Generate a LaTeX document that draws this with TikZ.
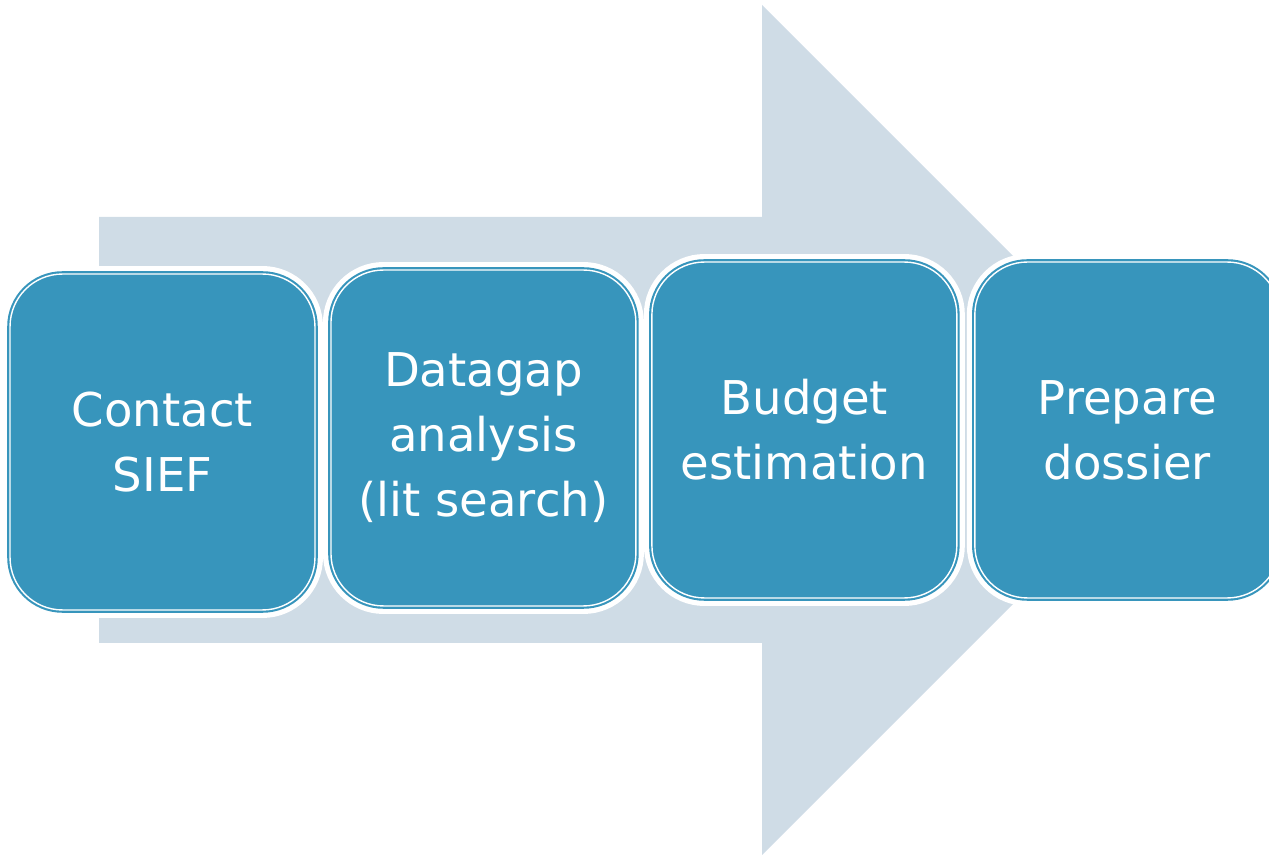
\documentclass[tikz,border=0pt]{standalone}
\usepackage{fontspec}
\setmainfont{DejaVu Sans}
\usetikzlibrary{positioning}
\definecolor{arrowgrey}{HTML}{CFDCE6}
\definecolor{stageblue}{HTML}{3795BC}
\tikzstyle{stage} = [rectangle, rounded corners=1.05cm, minimum width=6.1cm, minimum height=6.72cm, text centered, align=center, text=white, font=\fontsize{26.5}{37}\selectfont, fill=stageblue, draw=stageblue, line width=1.2pt, double=white, double distance=0.8pt, preaction={draw=white, line width=0.32cm}]
\begin{document}
\begin{tikzpicture}[x=0.02cm, y=-0.02cm, node distance=6.42cm]
\useasboundingbox (0,0) rectangle (1269,857);
\clip (0,0) rectangle (1269,857);
% big background arrow
\fill[arrowgrey] (99,217) -- (762,217) -- (762,5) -- (1187,430) -- (762,855) -- (762,643) -- (99,643) -- cycle;
\node (contact) [stage] at (162.5,442) {Contact\\SIEF};
\node (datagap) [stage, right of=contact, yshift=0.08cm] {Datagap\\analysis\\(lit search)};
\node (budget) [stage, right of=datagap, yshift=0.16cm] {Budget\\estimation};
\node (dossier) [stage, right of=budget, xshift=0.04cm] {Prepare\\dossier};
\end{tikzpicture}
\end{document}
